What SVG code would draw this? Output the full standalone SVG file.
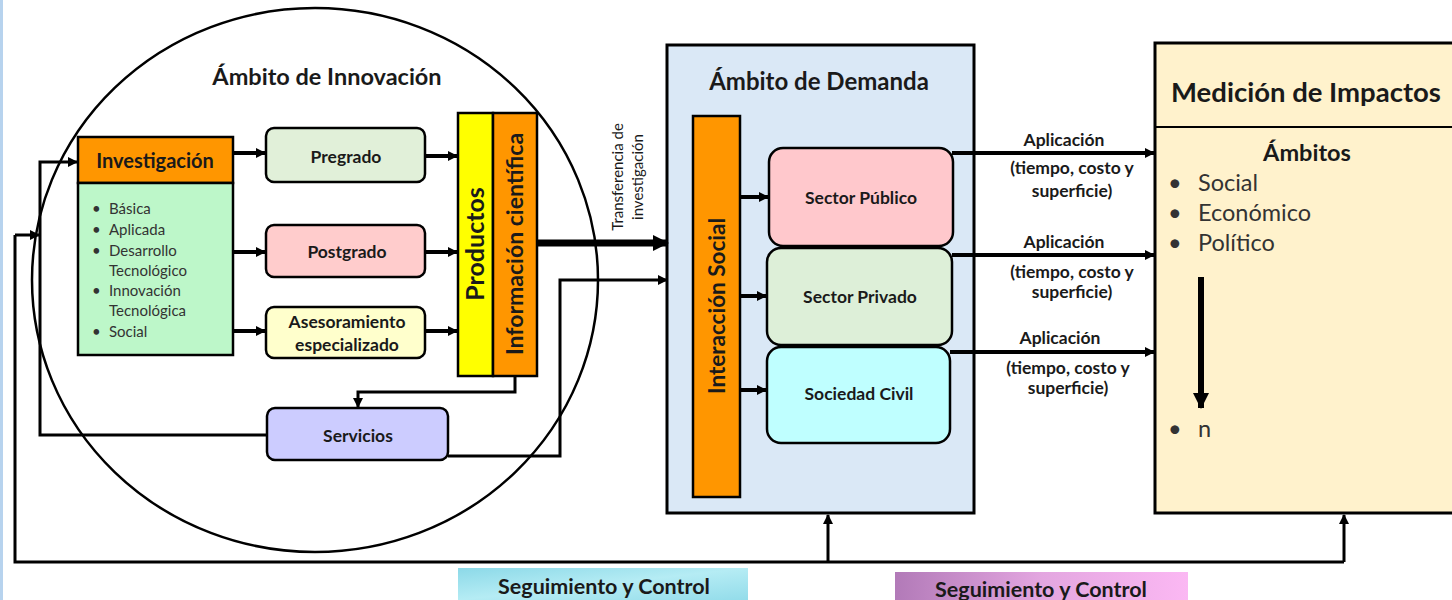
<svg xmlns="http://www.w3.org/2000/svg" width="1452" height="600" viewBox="0 0 1452 600">
<style>
text{font-family:Lato,"Open Sans","Liberation Sans",sans-serif;fill:#1a1a1a}
.b{font-weight:bold}
.box{stroke:#000;stroke-width:2.5}
.c{fill:none;stroke:#000;stroke-width:4}
.t{fill:none;stroke:#000;stroke-width:3}
.li{font-size:15px;fill:#333}
.ap{font-size:17.5px;font-weight:bold;text-anchor:middle}
.mi{font-size:23.5px;fill:#333}
.bx{font-weight:bold;font-size:17.5px;text-anchor:middle}
</style>
<defs>
<marker id="a" markerUnits="userSpaceOnUse" markerWidth="10" markerHeight="10" refX="9" refY="5" orient="auto"><path d="M0,0 L10,5 L0,10 z" fill="#000"/></marker>
<marker id="aL" markerUnits="userSpaceOnUse" markerWidth="16" markerHeight="16" refX="15" refY="8" orient="auto"><path d="M0,0 L16,8 L0,16 z" fill="#000"/></marker>
<linearGradient id="pk" x1="0" x2="1" y1="0" y2="0"><stop offset="0" stop-color="#B27AB8"/><stop offset="0.5" stop-color="#E3A6E0"/><stop offset="1" stop-color="#FBB8F3"/></linearGradient>
<linearGradient id="cy" x1="0" x2="1" y1="0" y2="1"><stop offset="0" stop-color="#8CD9E8"/><stop offset="0.5" stop-color="#B5ECF4"/><stop offset="1" stop-color="#93DCEA"/></linearGradient>
</defs>
<rect x="0" y="0" width="1452" height="600" fill="#fff"/>
<rect x="0" y="0" width="3" height="600" fill="#B7D3EE"/>

<g id="innovacion">
<ellipse cx="315" cy="280" rx="283" ry="272" fill="none" stroke="#000" stroke-width="2.5"/>
<text x="327" y="85" class="b" font-size="23.5" text-anchor="middle">Ámbito de Innovación</text>
</g>

<g id="investigacion">
<rect x="78" y="137" width="155" height="46" fill="#FF9600" class="box"/>
<text x="155" y="168" class="b" font-size="20" text-anchor="middle">Investigación</text>
<rect x="78" y="183" width="155" height="172" fill="#BDF7C9" class="box"/>
<text x="92" y="214" class="li">•</text><text x="109" y="214" class="li">Básica</text>
<text x="92" y="235" class="li">•</text><text x="109" y="235" class="li">Aplicada</text>
<text x="92" y="256" class="li">•</text><text x="109" y="256" class="li">Desarrollo</text>
<text x="109" y="276" class="li">Tecnológico</text>
<text x="92" y="296" class="li">•</text><text x="109" y="296" class="li">Innovación</text>
<text x="109" y="316" class="li">Tecnológica</text>
<text x="92" y="337" class="li">•</text><text x="109" y="337" class="li">Social</text>
</g>

<g id="pregrado">
<rect x="266" y="128" width="159" height="54" rx="8" fill="#E1F0D9" class="box"/>
<text x="346" y="163" class="bx">Pregrado</text>
</g>
<g id="postgrado">
<rect x="266" y="225" width="159" height="52" rx="8" fill="#FFCCCC" class="box"/>
<text x="347" y="258" class="bx">Postgrado</text>
</g>
<g id="asesoramiento">
<rect x="266" y="307" width="159" height="51" rx="8" fill="#FFFFCC" class="box"/>
<text x="347" y="328" class="bx">Asesoramiento</text>
<text x="347" y="351" class="bx">especializado</text>
</g>

<g id="productos">
<rect x="458" y="113" width="35" height="263" fill="#FFFF00" class="box"/>
<text transform="translate(484,244) rotate(-90)" class="b" font-size="25" text-anchor="middle">Productos</text>
</g>
<g id="informacion">
<rect x="493" y="113" width="44" height="263" fill="#FF9600" class="box"/>
<text transform="translate(523,244) rotate(-90)" class="b" font-size="23" text-anchor="middle">Información científica</text>
</g>

<g id="servicios">
<rect x="267" y="408" width="181" height="52" rx="8" fill="#CCCCFF" class="box"/>
<text x="358" y="442" class="bx">Servicios</text>
</g>

<g id="transferencia">
<text transform="translate(623,177) rotate(-90)" font-size="15" fill="#444" text-anchor="middle">Transferencia de</text>
<text transform="translate(643,177) rotate(-90)" font-size="15" fill="#444" text-anchor="middle">investigación</text>
</g>

<g id="demanda">
<rect x="667" y="45" width="307" height="468" fill="#DAE8F6" stroke="#000" stroke-width="3"/>
<text x="819" y="90" class="b" font-size="24" text-anchor="middle">Ámbito de Demanda</text>
</g>
<g id="interaccion">
<rect x="693" y="116" width="47" height="381" fill="#FF9600" class="box"/>
<text transform="translate(725,306) rotate(-90)" class="b" font-size="22.5" text-anchor="middle">Interacción Social</text>
</g>
<g id="sector-publico">
<rect x="769" y="148" width="184" height="98" rx="14" fill="#FFC8CC" class="box"/>
<text x="861" y="204" class="bx">Sector Público</text>
</g>
<g id="sector-privado">
<rect x="767" y="248" width="185" height="97" rx="14" fill="#DDEFD8" class="box"/>
<text x="860" y="303" class="bx">Sector Privado</text>
</g>
<g id="sociedad-civil">
<rect x="767" y="347" width="183" height="96" rx="14" fill="#BFFFFF" class="box"/>
<text x="859" y="400" class="bx">Sociedad Civil</text>
</g>

<g id="medicion">
<rect x="1155" y="43" width="310" height="470" fill="#FFF2CC" stroke="#000" stroke-width="3"/>
<line x1="1155" y1="127" x2="1452" y2="127" stroke="#000" stroke-width="2"/>
<text x="1306" y="102" class="b" font-size="27.5" text-anchor="middle">Medición de Impactos</text>
<text x="1307" y="161" class="b" font-size="23.5" text-anchor="middle">Ámbitos</text>
<text x="1168" y="191" class="mi">•</text><text x="1198" y="191" class="mi">Social</text>
<text x="1168" y="221" class="mi">•</text><text x="1198" y="221" class="mi">Económico</text>
<text x="1168" y="251" class="mi">•</text><text x="1198" y="251" class="mi">Político</text>
<text x="1168" y="437" class="mi">•</text><text x="1198" y="437" class="mi">n</text>
<line x1="1201" y1="277" x2="1201" y2="408" stroke="#000" stroke-width="6" marker-end="url(#aL)"/>
</g>

<g id="connectors">
<line x1="233" y1="153" x2="265" y2="153" class="c" marker-end="url(#a)"/>
<line x1="233" y1="252" x2="265" y2="252" class="c" marker-end="url(#a)"/>
<line x1="233" y1="331" x2="265" y2="331" class="c" marker-end="url(#a)"/>
<line x1="425" y1="156" x2="457" y2="156" class="c" marker-end="url(#a)"/>
<line x1="425" y1="252" x2="457" y2="252" class="c" marker-end="url(#a)"/>
<line x1="425" y1="331" x2="457" y2="331" class="c" marker-end="url(#a)"/>
<line x1="537" y1="243" x2="668" y2="243" stroke="#000" stroke-width="7" marker-end="url(#aL)"/>
<polyline points="515,376 515,392 358,392 358,407" class="t" marker-end="url(#a)"/>
<polyline points="448,456 560,456 560,280 667,280" class="t" marker-end="url(#a)"/>
<polyline points="267,435 40,435 40,162 77,162" class="t" marker-end="url(#a)"/>
<line x1="15" y1="235" x2="39" y2="235" class="t" marker-end="url(#a)"/>
<polyline points="15,235 15,562 1344,562" class="t" stroke-width="3.5"/>
<line x1="828" y1="562" x2="828" y2="515" class="t" marker-end="url(#a)"/>
<line x1="1344" y1="562" x2="1344" y2="515" class="t" marker-end="url(#a)"/>
<line x1="740" y1="197" x2="768" y2="197" class="c" marker-end="url(#a)"/>
<line x1="740" y1="296" x2="766" y2="296" class="c" marker-end="url(#a)"/>
<line x1="740" y1="390" x2="766" y2="390" class="c" marker-end="url(#a)"/>
<line x1="952" y1="153" x2="1154" y2="153" class="c" marker-end="url(#a)"/>
<line x1="952" y1="255" x2="1154" y2="255" class="c" marker-end="url(#a)"/>
<line x1="950" y1="352" x2="1154" y2="352" class="c" marker-end="url(#a)"/>
</g>

<g id="aplicacion-labels">
<text x="1064" y="146" class="ap">Aplicación</text>
<text x="1072" y="174" class="ap">(tiempo, costo y</text>
<text x="1072" y="197" class="ap">superficie)</text>
<text x="1064" y="248" class="ap">Aplicación</text>
<text x="1072" y="278" class="ap">(tiempo, costo  y</text>
<text x="1072" y="298" class="ap">superficie)</text>
<text x="1060" y="344" class="ap">Aplicación</text>
<text x="1068" y="374" class="ap">(tiempo, costo  y</text>
<text x="1068" y="394" class="ap">superficie)</text>
</g>

<g id="seguimiento-1">
<rect x="458" y="568" width="290" height="32" fill="url(#cy)"/>
<text x="604" y="594" class="b" font-size="21.5" text-anchor="middle">Seguimiento y Control</text>
</g>
<g id="seguimiento-2">
<rect x="895" y="572" width="293" height="28" fill="url(#pk)"/>
<text x="1041" y="597" class="b" font-size="21.5" text-anchor="middle">Seguimiento y Control</text>
</g>
</svg>
